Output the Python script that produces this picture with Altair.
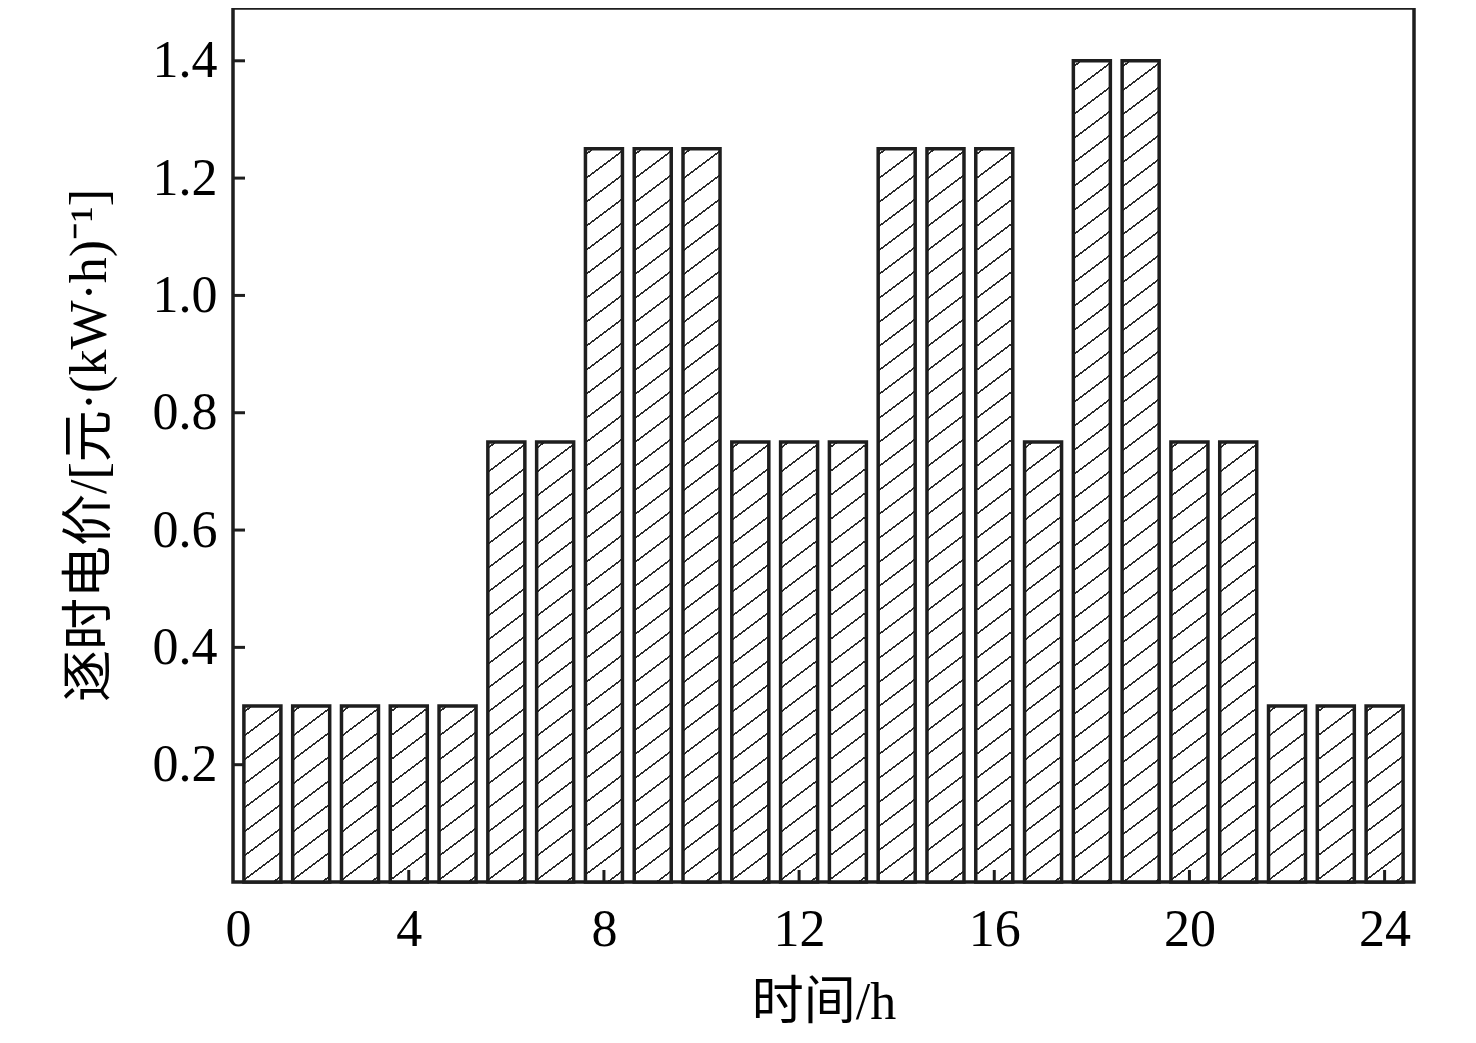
import altair as alt
import pandas as pd

# hourly time-of-use price, hours 1..24
hours = list(range(1, 25))
price = [0.3, 0.3, 0.3, 0.3, 0.3,
         0.75, 0.75,
         1.25, 1.25, 1.25,
         0.75, 0.75, 0.75,
         1.25, 1.25, 1.25,
         0.75,
         1.4, 1.4,
         0.75, 0.75,
         0.3, 0.3, 0.3]
x_ticks = [0.5, 4, 8, 12, 16, 20, 24]
y_ticks = [0.2, 0.4, 0.6, 0.8, 1.0, 1.2, 1.4]

W, H = 1181, 874
Y_MAX = 1.49
BAR_W = 37
FONT = "'Liberation Serif', 'Noto Sans CJK SC'"
INK = "#1e1e1e"

df = pd.DataFrame({"hour": hours, "price": price})


def hatch(v, slope=0.75, spacing=24.0, thick=2.0, phase=6.0):
    # striped linear gradient that looks like "/" hatching in pixel space
    h = v * H / Y_MAX
    w = BAR_W
    span = slope * w + h
    k = span / (slope**2 * w**2 + h**2)
    stops = [alt.GradientStop(color="white", offset=0)]
    c = phase
    while c + thick / 2 < span:
        a, b = (c - thick / 2) / span, (c + thick / 2) / span
        stops += [
            alt.GradientStop(color="white", offset=a),
            alt.GradientStop(color="#2a2a2a", offset=a),
            alt.GradientStop(color="#2a2a2a", offset=b),
            alt.GradientStop(color="white", offset=b),
        ]
        c += spacing
    stops.append(alt.GradientStop(color="white", offset=1))
    return alt.LinearGradient(
        gradient="linear", stops=stops,
        x1=0, y1=0, x2=slope * w * k, y2=h * k,
    )


x_enc = alt.X(
    "hour:Q",
    scale=alt.Scale(domain=[0.5, 24.5], nice=False, zero=False),
    axis=alt.Axis(
        values=x_ticks,
        labelExpr="datum.value == 0.5 ? '0' : datum.label",
        title="时间/h", grid=False, domain=False, ticks=False,
        labelPadding=22, titlePadding=22,
    ),
)
y_enc = alt.Y(
    "price:Q",
    scale=alt.Scale(domain=[0, Y_MAX], nice=False),
    axis=alt.Axis(
        values=y_ticks, format=".1f",
        title="逐时电价/[元·(kW·h)⁻¹]", grid=False, domain=False, ticks=False,
        labelPadding=16, titlePadding=36,
    ),
)

layers = []
for v in sorted(set(price)):
    layers.append(
        alt.Chart(df)
        .transform_filter(alt.datum.price == v)
        .mark_bar(size=BAR_W, fill=hatch(v), stroke=INK, strokeWidth=3.5)
        .encode(x=x_enc, y=y_enc)
    )

ytick_df = pd.DataFrame({"price": y_ticks})
xtick_df = pd.DataFrame({"hour": x_ticks[1:]})

y_tick_marks = alt.Chart(ytick_df).mark_rule(color=INK, strokeWidth=3).encode(
    y="price:Q", x=alt.value(0), x2=alt.value(12)
)
x_tick_marks = alt.Chart(xtick_df).mark_rule(color=INK, strokeWidth=3).encode(
    x="hour:Q", y=alt.value(H), y2=alt.value(H - 12)
)

chart = (
    alt.layer(*layers, y_tick_marks, x_tick_marks)
    .properties(
        width=W, height=H,
        autosize=alt.AutoSizeParams(type="none"),
        padding={"left": 225, "top": 0, "right": 40, "bottom": 150},
    )
    .configure_view(stroke=INK, strokeWidth=3.5)
    .configure_axis(
        labelFont=FONT, labelFontSize=52, labelColor="black",
        titleFont=FONT, titleFontSize=52, titleFontWeight="normal", titleColor="black",
    )
)

chart.save("out.html", embed_options={"renderer": "svg", "actions": False})
